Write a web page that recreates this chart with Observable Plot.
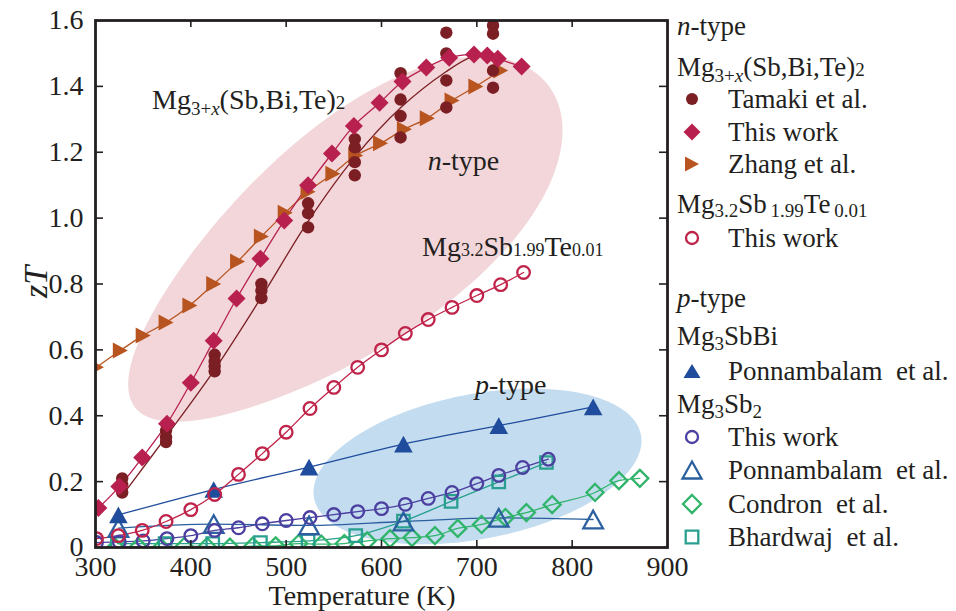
<!DOCTYPE html>
<html><head><meta charset="utf-8">
<script src="https://cdn.jsdelivr.net/npm/d3@7"></script>
<script src="https://cdn.jsdelivr.net/npm/@observablehq/plot@0.6"></script>
<style>
body{margin:0;background:#fff;}
#chart{width:956px;height:611px;}
svg text{font-family:"Liberation Serif","Times New Roman",serif;}
</style></head><body><div id="chart"></div>
<script>
// ---------- data ----------
const xTicks = [300, 400, 500, 600, 700, 800, 900];
const yTicks = [0, 0.2, 0.4, 0.6, 0.8, 1.0, 1.2, 1.4, 1.6];

// n-type Mg3+x(Sb,Bi,Te)2, Tamaki et al. (several samples per temperature)
const tamakiT  = [328,328,328, 374,374,374, 425,425,425,425, 474,474,474, 523,523,523, 572,572,572,572, 620,620,620,620, 668,668,668,668, 717,717,717,717];
const tamakiZT = [0.21,0.19,0.167, 0.355,0.335,0.32, 0.585,0.565,0.55,0.535, 0.80,0.78,0.757, 1.045,1.015,0.972, 1.24,1.215,1.17,1.13, 1.44,1.36,1.31,1.245, 1.563,1.50,1.418,1.336, 1.585,1.56,1.448,1.396];
const tamakiFitT  = [330, 375, 425, 474, 523, 572, 620, 668, 695, 717];
const tamakiFitZT = [0.165, 0.34, 0.54, 0.76, 0.99, 1.185, 1.335, 1.445, 1.49, 1.50];
// n-type, This work (filled diamonds)
const thisNT  = [303, 325, 349, 375, 400, 424, 448, 473, 498, 523, 548, 571, 598, 622, 647, 671, 697, 711, 722, 747];
const thisNZT = [0.12, 0.185, 0.273, 0.376, 0.50, 0.628, 0.756, 0.877, 0.993, 1.10, 1.196, 1.28, 1.35, 1.415, 1.457, 1.487, 1.497, 1.494, 1.484, 1.46];
// n-type, Zhang et al.
const zhangT  = [301, 326, 350, 374, 399, 424, 449, 474, 499, 523, 549, 573, 599, 624, 648, 674, 699, 725];
const zhangZT = [0.547, 0.598, 0.644, 0.683, 0.735, 0.80, 0.868, 0.944, 1.016, 1.08, 1.135, 1.19, 1.227, 1.27, 1.303, 1.357, 1.40, 1.448];
// n-type Mg3.2Sb1.99Te0.01, This work
const teT  = [301, 324, 349, 374, 400, 425, 450, 475, 500, 525, 550, 575, 600, 625, 649, 674, 700, 725, 749];
const teZT = [0.027, 0.036, 0.052, 0.079, 0.115, 0.161, 0.222, 0.285, 0.35, 0.422, 0.486, 0.547, 0.60, 0.65, 0.692, 0.729, 0.765, 0.798, 0.835];
// p-type Mg3SbBi, Ponnambalam et al.
const sbbiT  = [324, 424, 524, 623, 723, 822];
const sbbiZT = [0.099, 0.176, 0.244, 0.314, 0.37, 0.427];
// p-type Mg3Sb2, This work
const pThisT  = [301, 325, 350, 375, 400, 425, 450, 475, 500, 525, 550, 575, 600, 625, 649, 674, 700, 723, 748, 775];
const pThisZT = [0.015, 0.017, 0.02, 0.027, 0.036, 0.052, 0.06, 0.072, 0.082, 0.091, 0.10, 0.109, 0.118, 0.131, 0.149, 0.167, 0.194, 0.219, 0.243, 0.268];
// p-type Mg3Sb2, Ponnambalam et al.
const ponT  = [324, 424, 524, 623, 723, 822];
const ponZT = [0.059, 0.071, 0.067, 0.079, 0.09, 0.085];
// p-type Mg3Sb2, Condron et al.
const conT  = [321, 345, 369, 393, 417, 441, 465, 489, 513, 537, 561, 585, 609, 632, 656, 680, 705, 730, 752, 779, 824, 849, 871];
const conZT = [0.0, 0.002, 0.0, 0.003, 0.003, 0.001, 0.004, 0.005, 0.012, 0.01, 0.012, 0.02, 0.027, 0.03, 0.036, 0.058, 0.07, 0.091, 0.106, 0.13, 0.167, 0.203, 0.21];
// p-type Mg3Sb2, Bhardwaj et al.
const bhaT  = [323, 373, 423, 473, 523, 573, 623, 673, 723, 773];
const bhaZT = [0.012, 0.012, 0.012, 0.015, 0.02, 0.036, 0.08, 0.14, 0.199, 0.258];

// ---------- layout ----------
const W = 956, H = 611, mL = 95, mR = 289, mT = 20, mB = 64;
const pw = W - mL - mR, ph = H - mT - mB;
const kx = pw / 600, ky = ph / 1.6;
const ink = "#231f20";
const C = {
  tamaki: "#7b1f24", thisN: "#b8214f", zhang: "#b8541f", te: "#c0234a",
  sbbi: "#1f4c9c", pThis: "#4b3fa0", pon: "#2b5f9f", con: "#30b56b", bha: "#29a08f",
  pink: "#f2d6d9", blue: "#c3dcef"
};

const zip = (T, Z) => T.map((t, i) => ({T: t, Z: Z[i]}));

// decorative region shapes (center in data units, radii in px, angle in degrees, egg = widening toward the upper end)
const nRegion = {cT: 558, cZ: 0.915, a: 262, b: 108, angle: 38, egg: 0.2};
const pRegion = {cT: 700.7, cZ: 0.246, a: 166.5, b: 72.4, angle: 11, egg: 0};
function region(p) {
  const th = p.angle * Math.PI / 180, pts = [];
  for (let i = 0; i < 144; i++) {
    const t = i / 144 * 2 * Math.PI;
    const u = p.a * Math.cos(t), v = p.b * Math.sin(t) * (1 + p.egg * Math.cos(t));
    const dx = u * Math.cos(th) - v * Math.sin(th);
    const dy = u * Math.sin(th) + v * Math.cos(th);
    pts.push({T: p.cT + dx / kx, Z: p.cZ + dy / ky});
  }
  return pts;
}

// symbols
const S = {
  circle: r => ({draw(c){c.moveTo(r,0);c.arc(0,0,r,0,2*Math.PI);c.closePath();}}),
  diamond: h => ({draw(c){c.moveTo(0,-h);c.lineTo(h,0);c.lineTo(0,h);c.lineTo(-h,0);c.closePath();}}),
  triRight: (w,h) => ({draw(c){c.moveTo(w,0);c.lineTo(-w,-h);c.lineTo(-w,h);c.closePath();}}),
  triUp: (w,h) => ({draw(c){c.moveTo(0,-h);c.lineTo(w,h);c.lineTo(-w,h);c.closePath();}}),
  square: h => ({draw(c){c.rect(-h,-h,2*h,2*h);}})
};
const sym = {
  tamaki: S.circle(6.2), thisN: S.diamond(9), zhang: S.triRight(7.5, 8), te: S.circle(6.3),
  sbbi: S.triUp(9.3, 8.3), pThis: S.circle(6.3), pon: S.triUp(9.8, 8.8), con: S.diamond(8.5), bha: S.square(6.2)
};

const lw = 1.3;
const line = (data, color, curve = "catmull-rom") =>
  Plot.line(data, {x: "T", y: "Z", stroke: color, strokeWidth: lw, curve, clip: true});
const filled = (data, s, color) =>
  Plot.dot(data, {x: "T", y: "Z", symbol: s, fill: color, stroke: "none", r: 5, clip: true});
const open = (data, s, color) =>
  Plot.dot(data, {x: "T", y: "Z", symbol: s, fill: "none", stroke: color, strokeWidth: 2.3, r: 5, clip: true});

const plot = Plot.plot({
  width: W, height: H,
  marginLeft: mL, marginRight: mR, marginTop: mT, marginBottom: mB,
  x: {domain: [300, 900]},
  y: {domain: [0, 1.6]},
  style: {fontFamily: "'Liberation Serif','Times New Roman',serif", fontSize: "28px", color: ink, background: "white", overflow: "visible"},
  marks: [
    Plot.line(region(nRegion), {x: "T", y: "Z", fill: C.pink, stroke: "none", curve: "linear-closed"}),
    Plot.line(region(pRegion), {x: "T", y: "Z", fill: C.blue, stroke: "none", curve: "linear-closed"}),
    line(zip(conT, conZT), C.con, "monotone-x"),
    line(zip(bhaT, bhaZT), C.bha, "monotone-x"),
    line(zip(ponT, ponZT), C.pon, "monotone-x"),
    line(zip(pThisT, pThisZT), C.pThis),
    line(zip(sbbiT, sbbiZT), C.sbbi),
    line(zip(teT, teZT), C.te),
    line(zip(zhangT, zhangZT), C.zhang),
    line(zip(tamakiFitT, tamakiFitZT), C.tamaki),
    line(zip(thisNT, thisNZT), C.thisN),
    open(zip(conT, conZT), sym.con, C.con),
    open(zip(bhaT, bhaZT), sym.bha, C.bha),
    open(zip(ponT, ponZT), sym.pon, C.pon),
    open(zip(pThisT, pThisZT), sym.pThis, C.pThis),
    filled(zip(sbbiT, sbbiZT), sym.sbbi, C.sbbi),
    open(zip(teT, teZT), sym.te, C.te),
    filled(zip(zhangT, zhangZT), sym.zhang, C.zhang),
    filled(zip(tamakiT, tamakiZT), sym.tamaki, C.tamaki),
    filled(zip(thisNT, thisNZT), sym.thisN, C.thisN),
    // inward ticks on all four sides
    Plot.tickX(xTicks.slice(1, -1), {x: d => d, insetTop: ph - 7, stroke: ink, strokeWidth: 1.6}),
    Plot.tickX(xTicks.slice(1, -1), {x: d => d, insetBottom: ph - 7, stroke: ink, strokeWidth: 1.6}),
    Plot.tickY(yTicks.slice(1, -1), {y: d => d, insetRight: pw - 8, stroke: ink, strokeWidth: 1.6}),
    Plot.tickY(yTicks.slice(1, -1), {y: d => d, insetLeft: pw - 8, stroke: ink, strokeWidth: 1.6}),
    Plot.axisX({ticks: xTicks, tickSize: 0, tickPadding: 9, label: null, fill: ink}),
    Plot.axisY({ticks: yTicks, tickSize: 0, tickPadding: 12, label: null, fill: ink,
      tickFormat: d => d === 0 ? "0" : d.toFixed(1)}),
    Plot.frame({stroke: ink, strokeWidth: 2.8})
  ]
});
document.getElementById("chart").appendChild(plot);

// ---------- text annotations and legend ----------
const svg = d3.select(plot);
const sx = plot.scale("x"), sy = plot.scale("y");
const g = svg.append("g").attr("fill", ink).attr("text-anchor", "start")
  .attr("font-family", "'Liberation Serif','Times New Roman',serif");

function rich(x, y, segs, size, anchor = "start") {
  const t = g.append("text").attr("x", x).attr("y", y).attr("font-size", size).attr("text-anchor", anchor);
  let cur = 0;
  for (const s of segs) {
    const sp = t.append("tspan").text(s.t);
    const sh = s.sh || 0;
    if (sh !== cur) { sp.attr("dy", sh - cur); cur = sh; }
    if (s.fs) sp.attr("font-size", s.fs);
    if (s.it) sp.attr("font-style", "italic");
  }
  return t;
}

// axis titles
rich(362, 605, [{t: "Temperature (K)"}], 28, "middle");
rich(0, 0, [{t: "zT", it: true}], 34, "middle").attr("transform", "translate(47,282) rotate(-90)");

// in-plot annotations (positioned in data coordinates)
const annT = [359.8, 649, 643, 698.6];
const annZ = [1.33, 1.145, 0.883, 0.465];
rich(sx.apply(annT[0]), sy.apply(annZ[0]), [
  {t: "Mg"}, {t: "3+", fs: 19, sh: 6}, {t: "x", fs: 19, sh: 6, it: true}, {t: "(Sb,Bi,Te)"}, {t: "2", fs: 19}
], 28);
rich(sx.apply(annT[1]), sy.apply(annZ[1]), [{t: "n", it: true}, {t: "-type"}], 28);
rich(sx.apply(annT[2]), sy.apply(annZ[2]), [
  {t: "Mg"}, {t: "3.2", fs: 18}, {t: "Sb"}, {t: "1.99", fs: 18}, {t: "Te"}, {t: "0.01", fs: 18}
], 28);
rich(sx.apply(annT[3]), sy.apply(annZ[3]), [{t: "p", it: true}, {t: "-type"}], 28);

// legend
const LX = 677, MX = 692, TX = 728, FS = 27;
rich(LX, 35, [{t: "n", it: true}, {t: "-type"}], FS);
rich(LX, 76, [{t: "Mg"}, {t: "3+", fs: 19, sh: 6}, {t: "x", fs: 19, sh: 6, it: true}, {t: "(Sb,Bi,Te)"}, {t: "2", fs: 19}], FS);
rich(LX, 213, [{t: "Mg"}, {t: "3.2", fs: 19, sh: 4}, {t: "Sb"}, {t: "\u20091.99", fs: 19, sh: 4}, {t: "Te"}, {t: "\u20090.01", fs: 19, sh: 4}], FS);
rich(LX, 307, [{t: "p", it: true}, {t: "-type"}], FS);
rich(LX, 345, [{t: "Mg"}, {t: "3", fs: 19, sh: 5}, {t: "SbBi"}], FS);
rich(LX, 413, [{t: "Mg"}, {t: "3", fs: 19, sh: 5}, {t: "Sb"}, {t: "2", fs: 19, sh: 5}], FS);

const legendItems = [
  {y: 99,  label: "Tamaki et al.",             s: S.circle(6),      color: C.tamaki, fill: true},
  {y: 132, label: "This work",                 s: S.diamond(8.5),   color: C.thisN,  fill: true},
  {y: 164, label: "Zhang et al.",              s: S.triRight(7, 7.5), color: C.zhang, fill: true},
  {y: 238, label: "This work",                 s: S.circle(6),      color: C.te,     fill: false},
  {y: 371, label: "Ponnambalam\u2002et al.",   s: S.triUp(8.5, 7),  color: C.sbbi,   fill: true},
  {y: 437, label: "This work",                 s: S.circle(6),      color: C.pThis,  fill: false},
  {y: 470, label: "Ponnambalam\u2002et al.",   s: S.triUp(9.5, 8.5), color: C.pon,   fill: false},
  {y: 504, label: "Condron\u2002et al.",       s: S.diamond(9),     color: C.con,    fill: false},
  {y: 537, label: "Bhardwaj\u2002et al.",      s: S.square(6.3),    color: C.bha,    fill: false}
];
for (const it of legendItems) {
  g.append("path").attr("d", d3.symbol(it.s)()).attr("transform", `translate(${MX},${it.y})`)
    .attr("fill", it.fill ? it.color : "none").attr("stroke", it.fill ? "none" : it.color).attr("stroke-width", 2.3);
  g.append("text").attr("x", TX).attr("y", it.y + 9).attr("font-size", FS).attr("text-anchor", "start").text(it.label);
}
</script>
</body></html>
